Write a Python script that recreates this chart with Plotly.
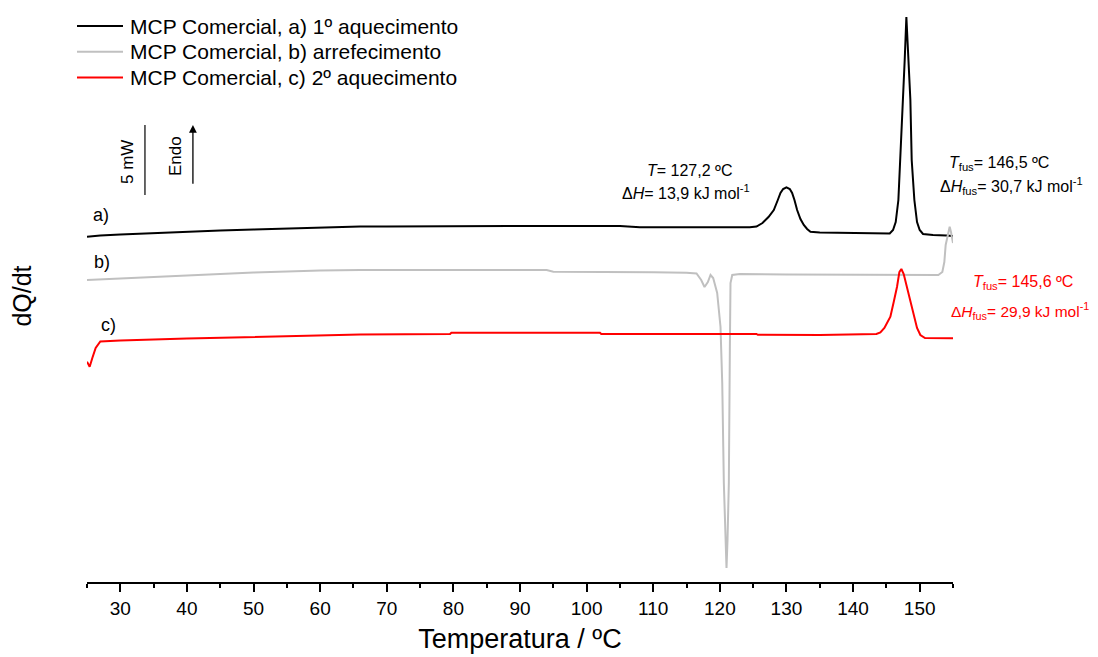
import plotly.graph_objects as go

# ---- data (temperature in ºC, heat flow in mW, arbitrary offsets per curve) ----
PX_PER_MW = 14.0
BASE_PX = 582.0

a_T = [25.0, 27, 30, 35, 40, 45, 50, 55, 60, 66, 70, 80, 90, 100, 105, 108, 115, 120, 124.5,
       125.5, 126.4, 127.3, 128.1, 128.7, 129.1, 129.5, 130.0, 130.5, 130.85, 131.2, 131.6,
       132.1, 132.6, 133.1, 133.6, 135, 140, 144, 145.5, 146.0, 146.4, 146.8, 147.1, 147.55,
       147.75, 148.0, 148.35, 148.6, 148.8, 149.2, 149.6, 150.0, 150.5, 152, 154, 155]
a_px = [236.7, 235.5, 234.5, 233, 231.5, 230.5, 229.5, 228.5, 227.5, 226.5, 226.5, 226, 226, 226, 226,
        227.3, 227.3, 227.3, 227.3,
        226.5, 223, 217, 210, 200, 193, 189, 187.3, 189, 193, 200, 210,
        219, 225, 229, 231.7, 232.5, 233, 234, 233.5, 230, 222, 200, 160, 100,
        60, 17, 60, 100, 160, 200, 222, 230, 234, 235, 235.5, 236]

b_T = [25.0, 30, 40, 50, 60, 66, 80, 94, 95, 106, 110, 115, 116.5, 117.2, 117.7, 118.2, 118.6,
       119.0, 119.6, 120.1, 120.36, 120.6, 120.85, 121.0, 121.15, 121.35, 121.5, 121.6, 121.86,
       123, 130, 140, 150, 152.8, 153.4, 153.7, 153.9, 154.2, 154.5, 154.7, 154.85, 155]
b_px = [280, 278.5, 275.5, 272.5, 270.5, 270, 270, 270, 271.7, 271.7, 272.3, 272.7, 273.5, 280, 287, 282, 275,
        278, 293, 327, 383, 483, 540, 568, 540, 483, 350, 283, 275,
        274, 274.5, 275, 275.5, 275, 272, 262, 245, 236, 226.7, 232, 240, 243]

c_T = [25.0, 25.4, 25.8, 26.3, 27.0, 28, 30, 40, 50, 60, 66, 79.5, 79.7, 100, 102, 102.2, 110, 120,
       125.5, 125.7, 135, 143.5, 144.1, 144.7, 145.2, 145.6, 146.1, 146.6, 146.95, 147.25, 147.6,
       148.0, 148.3, 148.7, 149.1, 149.6, 150.1, 150.8, 155]
c_px = [361.7, 366.7, 358, 348, 341.5, 341, 340.5, 338.5, 337, 335.5, 334.5, 334, 332.7, 332.7, 332.7, 334, 334, 334,
        334, 334.8, 335, 334, 332.5, 328, 322, 316.7, 302, 286.7, 272, 269, 274,
        285, 293.3, 305, 316.7, 328, 335, 338, 338.3]

def to_mw(px):
    return [round((BASE_PX - p) / PX_PER_MW, 3) for p in px]

a_y = to_mw(a_px)
b_y = to_mw(b_px)
c_y = to_mw(c_px)

names = ["MCP Comercial, a) 1º aquecimento",
         "MCP Comercial, b) arrefecimento",
         "MCP Comercial, c) 2º aquecimento"]
colors = ["#000000", "#c0c0c0", "#ff0000"]

x_ticks = [30, 40, 50, 60, 70, 80, 90, 100, 110, 120, 130, 140, 150]
x_minor = [25, 35, 45, 55, 65, 75, 85, 95, 105, 115, 125, 135, 145, 155]

FONT = "Liberation Sans, Arial, sans-serif"

# page offset (default body margin) and plot area in page pixels
OFF = 8
W, H = 1098 - OFF, 657 - OFF
L, R, T_, B = 87, 953, 10, 582
def px_x(p):
    return (p - L) / (R - L)
def px_y(p):
    return 1 - (p - T_) / (B - T_)

fig = go.Figure()
for T, y, n, c in zip([a_T, b_T, c_T], [a_y, b_y, c_y], names, colors):
    fig.add_trace(go.Scatter(x=T, y=y, mode="lines", name=n,
                             line=dict(color=c, width=2), showlegend=False))

fig.update_layout(
    width=W, height=H,
    margin=dict(l=L - OFF, r=1098 - R, t=T_ - OFF, b=657 - B),
    paper_bgcolor="white", plot_bgcolor="white",
    font=dict(family=FONT, color="black"),
    showlegend=False,
    xaxis=dict(range=[25, 155], showline=True, linecolor="black", linewidth=2,
               ticks="outside", ticklen=8, tickwidth=1.5, tickcolor="black",
               tickvals=x_ticks, tickfont=dict(size=19, family=FONT),
               minor=dict(ticks="outside", ticklen=4, tickwidth=1.5, tickcolor="black",
                          tickvals=x_minor),
               showgrid=False, zeroline=False, automargin=False,
               title=dict(text="Temperatura / ºC", font=dict(size=27, family=FONT), standoff=11)),
    yaxis=dict(range=[0, (B - T_) / PX_PER_MW], showline=False, showticklabels=False,
               ticks="", showgrid=False, zeroline=False, automargin=False,
               title=dict(text="dQ/dt", font=dict(size=25, family=FONT), standoff=52)),
)

# legend (drawn as line samples + text)
for i, (n, c) in enumerate(zip(names, colors)):
    yy = px_y([26, 51.7, 77.5][i])
    fig.add_shape(type="line", xref="paper", yref="paper", x0=px_x(77), x1=px_x(123),
                  y0=yy, y1=yy, line=dict(color=c, width=2))
    fig.add_annotation(xref="paper", yref="paper", x=px_x(128), y=yy, xanchor="left",
                       yanchor="middle", text=n, showarrow=False, font=dict(size=21))

# scale bar: 5 mW
y_bar0 = (B - 195) / PX_PER_MW
fig.add_shape(type="line", xref="x", yref="y", x0=33.7, x1=33.7, y0=y_bar0, y1=y_bar0 + 5,
              line=dict(color="black", width=1.2))
fig.add_annotation(xref="paper", yref="paper", x=px_x(127), y=px_y(162), text="5 mW",
                   xanchor="center", yanchor="middle",
                   textangle=-90, showarrow=False, font=dict(size=17))
# Endo arrow
fig.add_annotation(x=40.9, y=y_bar0 + 5, ax=40.9, ay=y_bar0 + 0.7, axref="x", ayref="y",
                   showarrow=True, arrowhead=2, arrowsize=1.2, arrowwidth=1.3, arrowcolor="black",
                   text="")
fig.add_annotation(xref="paper", yref="paper", x=px_x(176), y=px_y(156), text="Endo",
                   xanchor="center", yanchor="middle",
                   textangle=-90, showarrow=False, font=dict(size=17))

# curve labels
for lab, xx, yy in [("a)", 101, 215), ("b)", 102, 262), ("c)", 108, 325)]:
    fig.add_annotation(xref="paper", yref="paper", x=px_x(xx), y=px_y(yy), text=lab,
                       xanchor="center", yanchor="middle",
                       showarrow=False, font=dict(size=18))

# peak annotations
ann = [
    ("<i>T</i>= 127,2 ºC", 689, 170, "black", 16),
    ("Δ<i>H</i>= 13,9 kJ mol<sup>-1</sup>", 686, 192, "black", 16),
    ("<i>T</i><sub>fus</sub>= 146,5 ºC", 999, 163, "black", 16),
    ("Δ<i>H</i><sub>fus</sub>= 30,7 kJ mol<sup>-1</sup>", 1011, 186, "black", 16),
    ("<i>T</i><sub>fus</sub>= 145,6 ºC", 1023, 282, "#ff0000", 16),
    ("Δ<i>H</i><sub>fus</sub>= 29,9 kJ mol<sup>-1</sup>", 1020, 311, "#ff0000", 15.5),
]
for t, xx, yy, c, fs in ann:
    fig.add_annotation(xref="paper", yref="paper", x=px_x(xx), y=px_y(yy), text=t,
                       xanchor="center", yanchor="middle",
                       showarrow=False, font=dict(size=fs, color=c))

fig.write_html("out.html")
